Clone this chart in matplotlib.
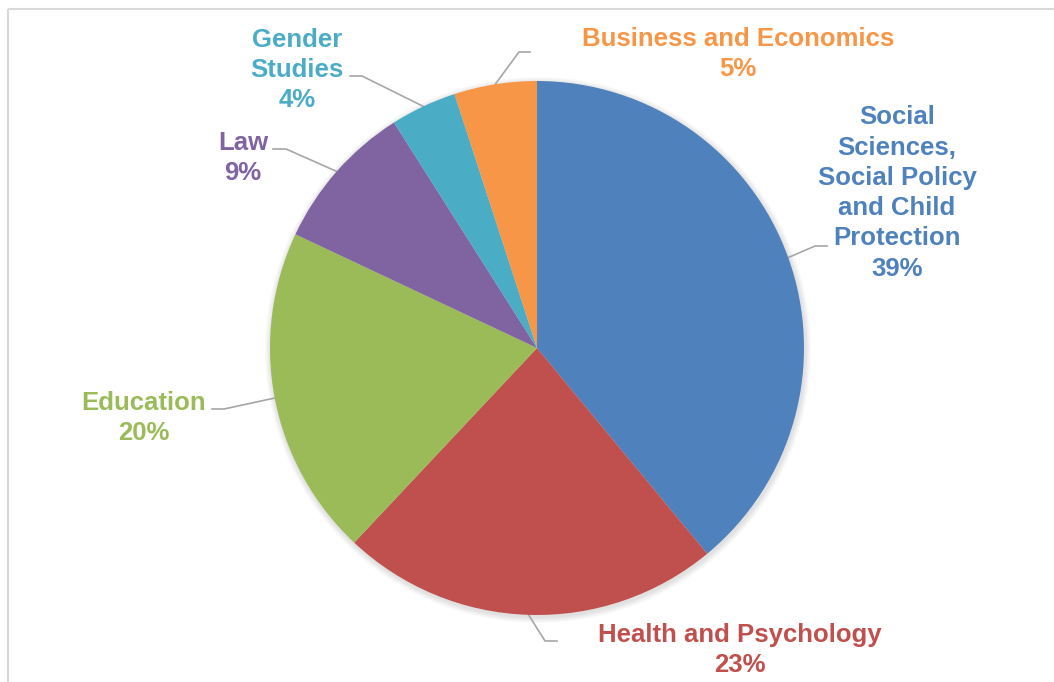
import matplotlib
matplotlib.use('Agg')
import matplotlib.pyplot as plt
import numpy as np
from matplotlib.patches import Circle, Rectangle

plt.rcParams['font.family'] = ['Liberation Sans', 'DejaVu Sans']

# data
categories = ['Social Sciences, Social Policy and Child Protection',
              'Health and Psychology', 'Education', 'Law',
              'Gender Studies', 'Business and Economics']
label_text = ['Social\nSciences,\nSocial Policy\nand Child\nProtection',
              'Health and Psychology', 'Education', 'Law',
              'Gender\nStudies', 'Business and Economics']
shares = [39, 23, 20, 9, 4, 5]
colors = ['#4F81BD', '#C0504D', '#9BBB59', '#8064A2', '#4BACC6', '#F79646']

# layout in pixels (y down)
W, H = 1054, 682
cx, cy, r = 537, 348, 267
label_pos = [(897, 193), (740, 650), (144, 418), (243, 158), (297, 70), (738, 54)]
elbow_pos = [(815, 246), (545, 641), (224, 409), (286, 149), (362, 76), (519, 52)]
end_pos = [(827, 246), (557, 641), (212, 409), (273, 149), (350, 76), (530, 52)]

fig = plt.figure(figsize=(W / 100, H / 100), dpi=100)
ax = fig.add_axes([0, 0, 1, 1])

# soft shadow round the pie
for i in range(1, 7):
    ax.add_patch(Circle((cx + 1, cy + 2), r + i, color='black', alpha=0.018,
                        lw=0, zorder=0))

# y axis is flipped, so counterclock in data = clockwise on screen
wedges, _ = ax.pie(shares, colors=colors, startangle=-90, counterclock=True,
                   center=(cx, cy), radius=r, wedgeprops=dict(linewidth=0))
for w in wedges:
    w.set_zorder(2)

for w, txt, v, col, lp, ep, en in zip(wedges, label_text, shares, colors,
                                       label_pos, elbow_pos, end_pos):
    mid = np.deg2rad((w.theta1 + w.theta2) / 2)
    sx = cx + r * np.cos(mid)
    sy = cy + r * np.sin(mid)
    ax.plot([sx, ep[0], en[0]], [sy, ep[1], en[1]], color='#A6A6A6',
            lw=1.2, zorder=1, solid_joinstyle='miter')
    ax.text(lp[0], lp[1], f'{txt}\n{v}%', color=col, fontsize=18.5,
            fontweight='bold', ha='center', va='center',
            multialignment='center', linespacing=1.33, zorder=3)

# chart border (runs off the right and bottom like the screenshot)
ax.add_patch(Rectangle((8, 9), W, H, fill=False, edgecolor='#D9D9D9', lw=1.5))

ax.set_xlim(0, W)
ax.set_ylim(H, 0)
ax.set_aspect('equal')
ax.axis('off')

fig.savefig('out.png', dpi=100)
